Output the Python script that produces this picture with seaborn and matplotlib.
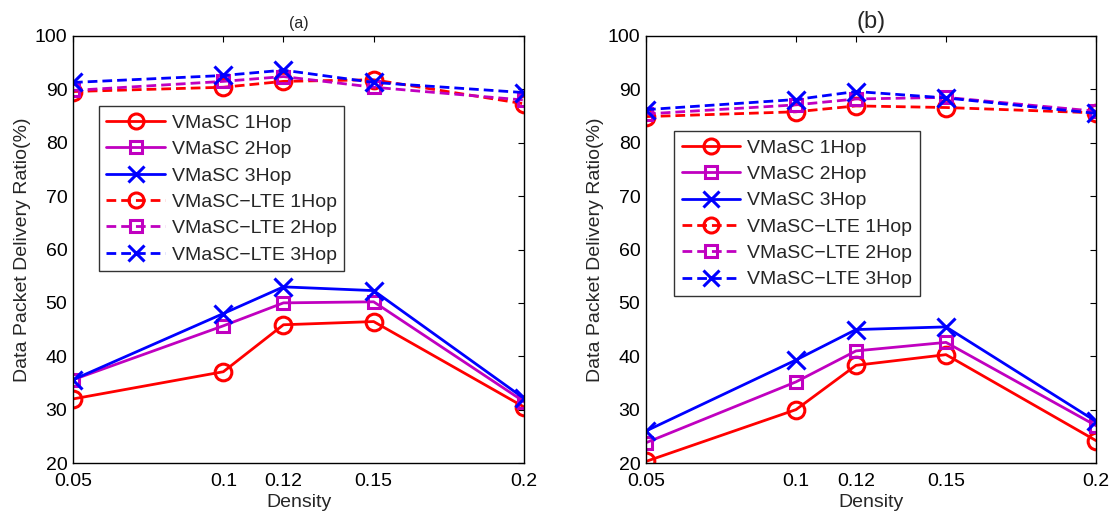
import matplotlib
matplotlib.use("Agg")
import matplotlib.pyplot as plt
import seaborn as sns
from matplotlib.lines import Line2D

density = [0.05, 0.1, 0.12, 0.15, 0.2]
xtick_labels = ["0.05", "0.1", "0.12", "0.15", "0.2"]
series_names = ["VMaSC 1Hop", "VMaSC 2Hop", "VMaSC 3Hop",
                "VMaSC\u2212LTE 1Hop", "VMaSC\u2212LTE 2Hop", "VMaSC\u2212LTE 3Hop"]

# Panel (a)
a_vmasc_1hop = [32.0, 37.1, 45.9, 46.5, 30.5]
a_vmasc_2hop = [35.6, 45.7, 50.0, 50.2, 31.5]
a_vmasc_3hop = [35.6, 48.0, 53.0, 52.3, 32.1]
a_lte_1hop = [89.6, 90.4, 91.5, 91.8, 87.3]
a_lte_2hop = [89.8, 91.5, 92.4, 90.4, 88.0]
a_lte_3hop = [91.3, 92.6, 93.6, 91.3, 89.4]

# Panel (b)
b_vmasc_1hop = [20.3, 30.0, 38.3, 40.3, 24.2]
b_vmasc_2hop = [23.8, 35.2, 41.0, 42.6, 27.0]
b_vmasc_3hop = [26.0, 39.3, 45.0, 45.5, 27.8]
b_lte_1hop = [84.9, 85.8, 86.9, 86.6, 85.6]
b_lte_2hop = [85.4, 87.1, 88.2, 88.5, 85.9]
b_lte_3hop = [86.2, 88.1, 89.6, 88.4, 85.5]

sns.set_style("white")
plt.rcParams["font.family"] = ["Liberation Sans", "DejaVu Sans"]
plt.rcParams["axes.unicode_minus"] = True

colors = ["#ff0000", "#c000c0", "#0000ff"]
markers = ["o", "s", "x"]
msizes = [12, 9, 13]
FS = 14

fig = plt.figure(figsize=(11.1, 5.15), dpi=100)
W, H = 1110, 515
axA = fig.add_axes([73 / W, 1 - 463 / H, 451 / W, 427 / H])
axB = fig.add_axes([646 / W, 1 - 463 / H, 450 / W, 427 / H])

panels = [
    (axA, [a_vmasc_1hop, a_vmasc_2hop, a_vmasc_3hop, a_lte_1hop, a_lte_2hop, a_lte_3hop],
     "(a)", 11.5, (0.057, 0.835)),
    (axB, [b_vmasc_1hop, b_vmasc_2hop, b_vmasc_3hop, b_lte_1hop, b_lte_2hop, b_lte_3hop],
     "(b)", 17, (0.062, 0.777)),
]

for ax, data, title, tsize, legpos in panels:
    handles = []
    for i, vals in enumerate(data):
        k = i % 3
        ls = "-" if i < 3 else (0, (3.5, 1.8))
        sns.lineplot(x=density, y=vals, ax=ax, color=colors[k], linewidth=2,
                     linestyle=ls, marker=markers[k], markersize=msizes[k],
                     markerfacecolor="none", markeredgecolor=colors[k],
                     markeredgewidth=2.2, legend=False)
        handles.append(Line2D([], [], color=colors[k], linewidth=2, linestyle=ls,
                              marker=markers[k], markersize=msizes[k] * 0.9,
                              markerfacecolor="none", markeredgecolor=colors[k],
                              markeredgewidth=2.2))
    ax.set_xlim(0.05, 0.2)
    ax.set_ylim(20, 100)
    ax.set_xticks(density)
    ax.set_xticklabels(xtick_labels)
    ax.set_yticks(range(20, 101, 10))
    ax.tick_params(direction="in", top=True, right=True, length=4, width=0.8,
                   labelsize=FS, colors="black")
    ax.tick_params(axis="x", pad=7)
    ax.tick_params(axis="y", pad=4)
    for sp in ax.spines.values():
        sp.set_visible(True)
        sp.set_color("black")
        sp.set_linewidth(1.0)
    ax.set_xlabel("Density", fontsize=FS, labelpad=3)
    ax.set_ylabel("Data Packet Delivery Ratio(%)", fontsize=FS, labelpad=3)
    ax.set_title(title, fontsize=tsize, pad=6)
    leg = ax.legend(handles, series_names, loc="upper left", bbox_to_anchor=legpos,
                    fontsize=FS, frameon=True, fancybox=False, handlelength=3.0,
                    handletextpad=0.35, borderpad=0.4, labelspacing=0.45,
                    borderaxespad=0)
    leg.get_frame().set_edgecolor("black")
    leg.get_frame().set_linewidth(1.0)

fig.savefig("out.png", dpi=100)
